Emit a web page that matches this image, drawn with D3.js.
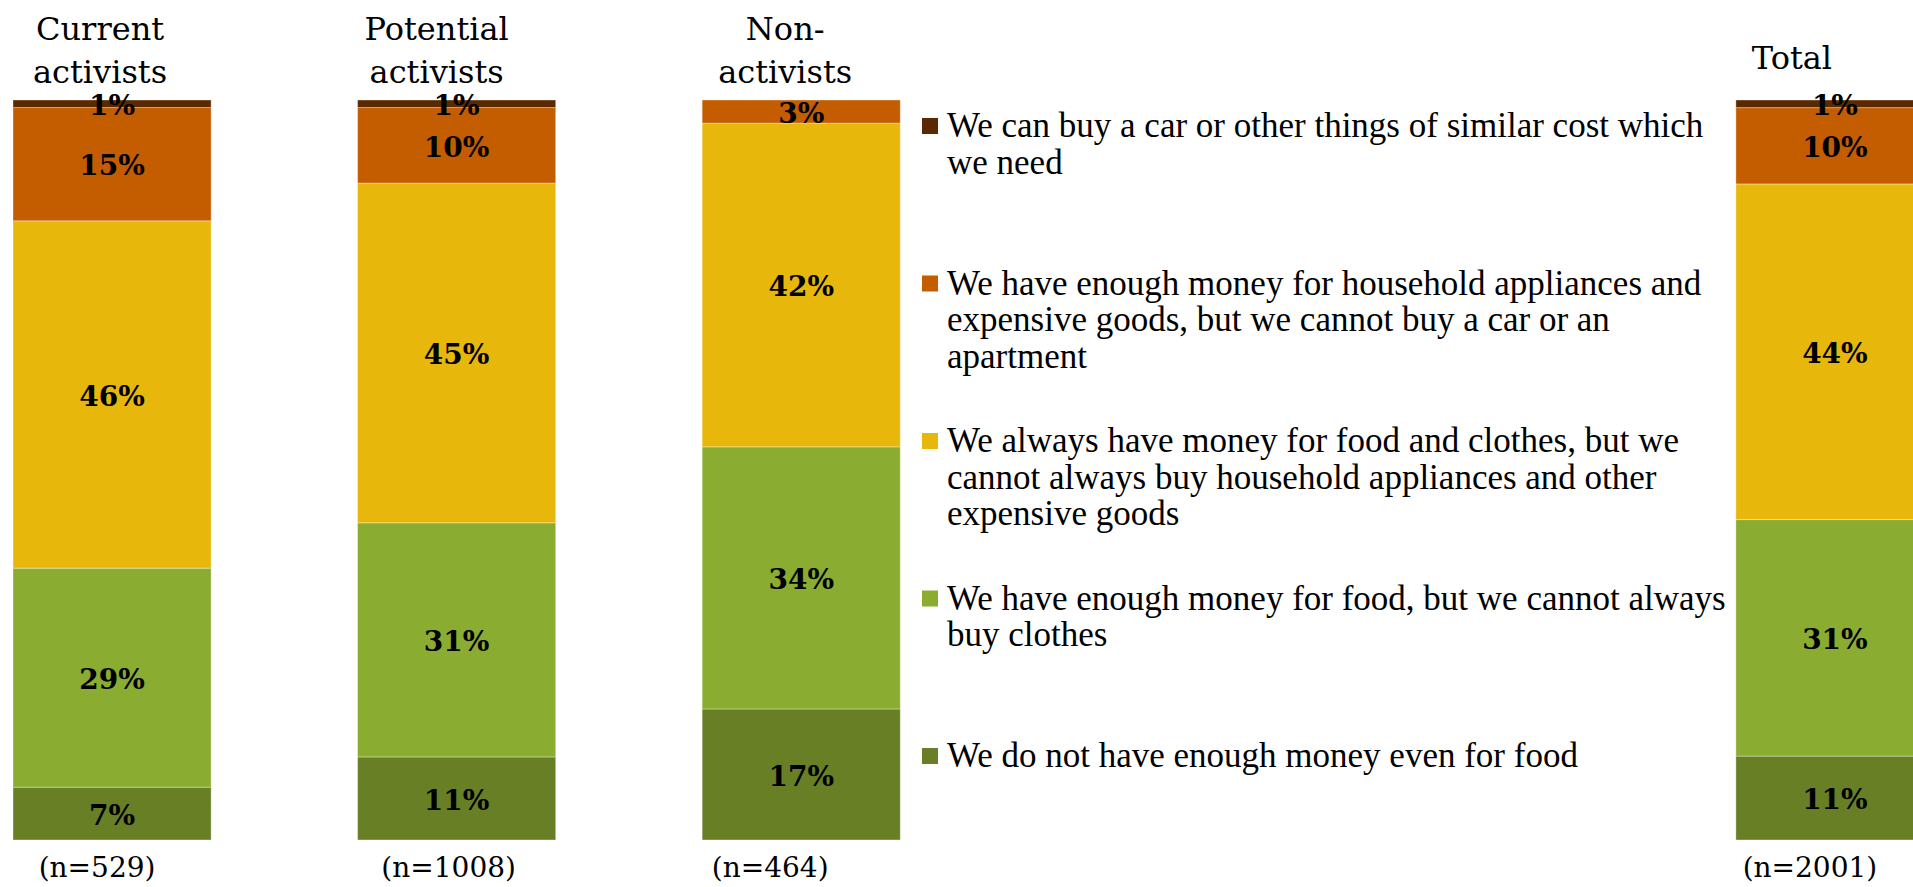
<!DOCTYPE html>
<html>
<head>
<meta charset="utf-8">
<script src="https://cdn.jsdelivr.net/npm/d3@7"></script>
<style>
  html, body { margin: 0; padding: 0; background: #fff; overflow: hidden; }
  svg { display: block; }
</style>
</head>
<body>
<svg id="chart" width="1913" height="887"></svg>
<script>
// Groups (columns) and their heading lines
const groups = ["Current activists", "Potential activists", "Non-activists", "Total"];
const groupHeadings = [["Current", "activists"], ["Potential", "activists"], ["Non-", "activists"], ["Total"]];
const sampleSizes = ["(n=529)", "(n=1008)", "(n=464)", "(n=2001)"];

// Income situation answers, bottom of the stack first
const answers = [
  "We do not have enough money even for food",
  "We have enough money for food, but we cannot always buy clothes",
  "We always have money for food and clothes, but we cannot always buy household appliances and other expensive goods",
  "We have enough money for household appliances and expensive goods, but we cannot buy a car or an apartment",
  "We can buy a car or other things of similar cost which we need"
];

// Percentages per answer, in the order of the groups
const notEvenFood     = [7, 11, 17, 11];
const foodNotClothes  = [29, 31, 34, 31];
const foodAndClothes  = [46, 45, 42, 44];
const appliances      = [15, 10, 3, 10];
const carOrSimilar    = [1, 1, 0, 1];

const seriesValues = [notEvenFood, foodNotClothes, foodAndClothes, appliances, carOrSimilar];
const colors = ["#687f26", "#8aac30", "#e7b80b", "#c45c00", "#5b2900"];

// Legend lines, top item first (matches the stack from top to bottom)
const legendLines = [
  ["We can buy a car or other things of similar cost which", "we need"],
  ["We have enough money for household appliances and", "expensive goods, but we cannot buy a car or an", "apartment"],
  ["We always have money for food and clothes, but we", "cannot always buy household appliances and other", "expensive goods"],
  ["We have enough money for food, but we cannot always", "buy clothes"],
  ["We do not have enough money even for food"]
];

// ---- layout ----
const svg = d3.select("#chart");
const plotTop = 100, plotBottom = 840;
// six equal slots; the legend sits in slots 3 and 4
const slotOf = [0, 1, 2, 5];
const headingShift = [-12, -20, -16, -43];
const sampleShift = [-15, -8, -31, -25];

const x = d3.scaleBand().domain(d3.range(6)).range([13, 1934]).paddingInner(0.425).paddingOuter(0);
const y = d3.scaleLinear().domain([0, 1]).range([plotBottom, plotTop]);

const rows = groups.map((g, i) => {
  const r = { group: g, idx: i };
  answers.forEach((a, k) => { r[a] = seriesValues[k][i]; });
  return r;
});

const stack = d3.stack().keys(answers).offset(d3.stackOffsetExpand);
const stacked = stack(rows);

const serif = "'DejaVu Serif', 'Liberation Serif', serif";

// bars
const layers = svg.append("g").selectAll("g")
  .data(stacked)
  .join("g")
  .attr("fill", (d, k) => colors[k]);

layers.selectAll("rect")
  .data(d => d)
  .join("rect")
  .attr("x", d => x(slotOf[d.data.idx]))
  .attr("width", x.bandwidth())
  .attr("y", d => y(d[1]))
  .attr("height", d => Math.max(0, y(d[0]) - y(d[1])))
  .attr("stroke", "rgba(255,255,255,0.35)")
  .attr("stroke-width", 1);

// value labels
stacked.forEach((layer, k) => {
  svg.append("g").selectAll("text")
    .data(layer.filter(d => seriesValues[k][d.data.idx] > 0))
    .join("text")
    .attr("x", d => x(slotOf[d.data.idx]) + x.bandwidth() / 2)
    .attr("y", d => (y(d[0]) + y(d[1])) / 2)
    .attr("dy", "0.4em")
    .attr("text-anchor", "middle")
    .attr("font-family", serif)
    .attr("font-weight", "bold")
    .attr("font-size", 28)
    .attr("fill", "#000")
    .text(d => seriesValues[k][d.data.idx] + "%");
});

// group headings
groups.forEach((g, i) => {
  const cx = x(slotOf[i]) + x.bandwidth() / 2 + headingShift[i];
  const lines = groupHeadings[i];
  const t = svg.append("text")
    .attr("text-anchor", "middle")
    .attr("font-family", serif)
    .attr("font-size", 32)
    .attr("fill", "#000");
  if (lines.length === 1) {
    t.attr("x", cx).attr("y", 69).text(lines[0]);
  } else {
    lines.forEach((ln, j) => {
      t.append("tspan").attr("x", cx).attr("y", 40 + j * 43).text(ln);
    });
  }
});

// sample sizes under bars
sampleSizes.forEach((s, i) => {
  svg.append("text")
    .attr("x", x(slotOf[i]) + x.bandwidth() / 2 + sampleShift[i])
    .attr("y", 877)
    .attr("text-anchor", "middle")
    .attr("font-family", serif)
    .attr("font-size", 28)
    .attr("fill", "#000")
    .text(s);
});

// legend
const legend = svg.append("g").attr("transform", "translate(922,137)");
legendLines.forEach((lines, i) => {
  const k = answers.length - 1 - i;
  const item = legend.append("g").attr("transform", `translate(0,${i * 157.5})`);
  item.append("rect")
    .attr("x", 0).attr("y", -19)
    .attr("width", 16).attr("height", 16)
    .attr("fill", colors[k]);
  const t = item.append("text")
    .attr("font-family", "'Liberation Serif', 'Times New Roman', serif")
    .attr("font-size", 35)
    .attr("fill", "#000");
  lines.forEach((ln, j) => {
    t.append("tspan").attr("x", 25).attr("y", j * 36.5).text(ln);
  });
});
</script>
</body>
</html>
